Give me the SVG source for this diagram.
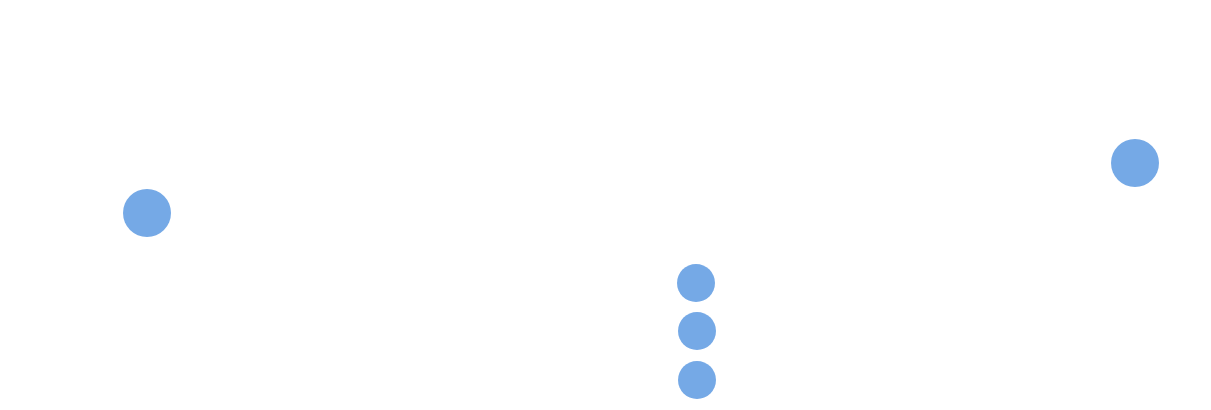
<svg xmlns="http://www.w3.org/2000/svg" width="1211" height="410" viewBox="0 0 1211 410"><style>.n{fill:#75a9e6}</style><rect width="1211" height="410" fill="#fff"/><g id="connectors"/><g id="n1"><circle class="n" cx="147" cy="213" r="24"/></g><g id="n2"><circle class="n" cx="1135" cy="163" r="24"/></g><g id="n3"><circle class="n" cx="696" cy="283" r="19"/></g><g id="n4"><circle class="n" cx="697" cy="331" r="19"/></g><g id="n5"><circle class="n" cx="697" cy="380" r="19"/></g></svg>
